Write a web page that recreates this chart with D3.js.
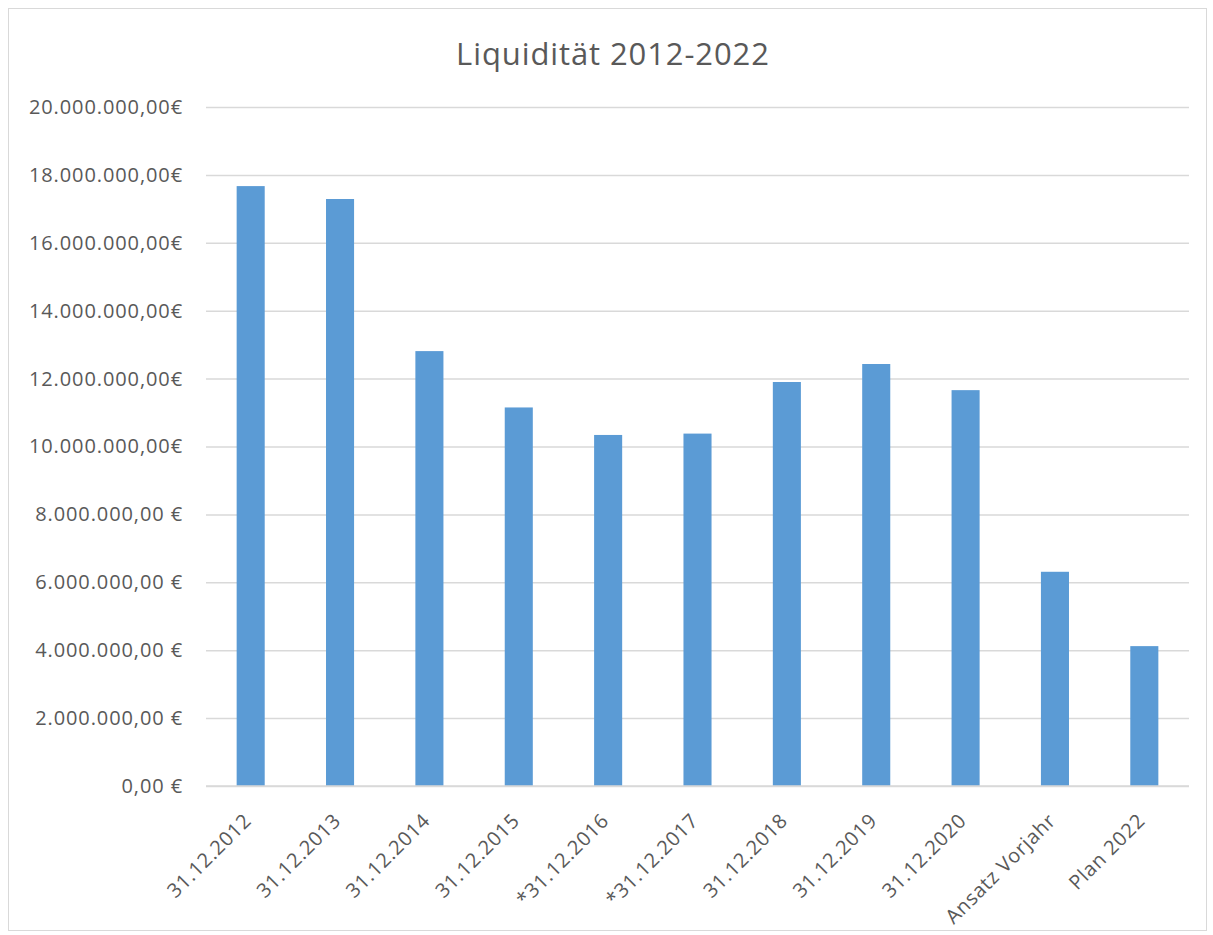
<!DOCTYPE html>
<html>
<head>
<meta charset="utf-8">
<script src="https://cdn.jsdelivr.net/npm/d3@7"></script>
<style>
  html, body { margin: 0; padding: 0; background: #fff; }
  svg { display: block; }
  text { font-family: "Open Sans", "Noto Sans", sans-serif; fill: #595959; }
</style>
</head>
<body>
<script>
const categories = ["31.12.2012", "31.12.2013", "31.12.2014", "31.12.2015", "*31.12.2016", "*31.12.2017",
  "31.12.2018", "31.12.2019", "31.12.2020", "Ansatz Vorjahr", "Plan 2022"];
const values = [17670000, 17290000, 12810000, 11150000, 10340000, 10380000,
  11900000, 12430000, 11660000, 6310000, 4120000];
const yTicks = [0, 2000000, 4000000, 6000000, 8000000, 10000000, 12000000, 14000000, 16000000, 18000000, 20000000];
const yTickLabels = ["0,00 €", "2.000.000,00 €", "4.000.000,00 €", "6.000.000,00 €", "8.000.000,00 €",
  "10.000.000,00€", "12.000.000,00€", "14.000.000,00€", "16.000.000,00€", "18.000.000,00€", "20.000.000,00€"];
const chartTitle = "Liquidität 2012-2022";

const W = 1213, H = 935;
const svg = d3.select("body").append("svg").attr("width", W).attr("height", H);

// chart border
svg.append("rect").attr("x", 8.5).attr("y", 8.5).attr("width", 1198).attr("height", 922)
  .attr("fill", "#fff").attr("stroke", "#d9d9d9").attr("stroke-width", 1);

const mLeft = 206, mRight = 1189, mTop = 107, mBottom = 786;

const x = d3.scaleBand().domain(categories).range([mLeft, mRight]).paddingInner(0.686).paddingOuter(0.343);
const y = d3.scaleLinear().domain([0, 20000000]).range([mBottom, mTop]);

// gridlines + y labels
const yAxis = d3.axisLeft(y).tickValues(yTicks).tickSize(-(mRight - mLeft)).tickPadding(23)
  .tickFormat((d, i) => yTickLabels[i]);
const gy = svg.append("g").attr("transform", `translate(${mLeft},0)`).call(yAxis);
gy.select(".domain").remove();
gy.selectAll(".tick line").attr("stroke", "#d9d9d9").attr("stroke-width", 1.5);
gy.selectAll(".tick text").attr("font-size", 20).attr("fill", "#595959")
  .attr("letter-spacing", "0.9px")
  .attr("font-family", '"Open Sans", sans-serif');

// bars
svg.append("g").selectAll("rect").data(values).join("rect")
  .attr("x", (d, i) => x(categories[i]))
  .attr("width", x.bandwidth())
  .attr("y", d => y(d))
  .attr("height", d => y(0) - y(d))
  .attr("fill", "#5b9bd5");

// baseline
svg.append("line").attr("x1", mLeft).attr("x2", mRight).attr("y1", y(0)).attr("y2", y(0))
  .attr("stroke", "#d9d9d9").attr("stroke-width", 1.5);

// x labels
svg.append("g").selectAll("text").data(categories).join("text")
  .attr("transform", d => `translate(${x(d) + x.bandwidth() / 2 + 2},${mBottom + 36}) rotate(-45)`)
  .attr("text-anchor", "end")
  .attr("font-size", 20)
  .attr("letter-spacing", "0.7px")
  .text(d => d);

// title
svg.append("text").attr("x", 613).attr("y", 65).attr("text-anchor", "middle")
  .attr("font-size", 31).attr("letter-spacing", "0.9px").text(chartTitle);
</script>
</body>
</html>
